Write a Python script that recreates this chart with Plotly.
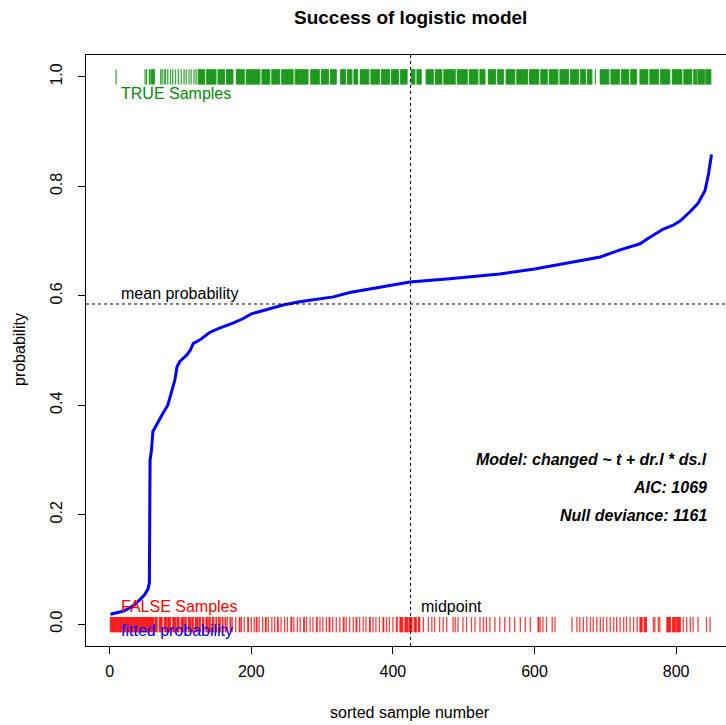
import plotly.graph_objects as go

# ---------------- data ----------------
CURVE_IDX = [1, 20, 35, 42, 49, 54, 56, 57, 59, 61, 68, 75, 82, 87, 92, 95, 99, 109, 114, 118,
             127, 141, 155, 174, 188, 200, 221, 245, 268, 292, 316, 339, 370, 400, 424, 480,
             551, 600, 636, 693, 721, 749, 763, 782, 796, 806, 820, 831, 841, 846, 850]
CURVE_PROB = [0.018, 0.024, 0.035, 0.044, 0.053, 0.064, 0.075, 0.300, 0.318, 0.352, 0.370, 0.385,
              0.400, 0.422, 0.446, 0.470, 0.480, 0.492, 0.501, 0.513, 0.519, 0.533, 0.541, 0.550,
              0.558, 0.567, 0.575, 0.583, 0.589, 0.594, 0.598, 0.606, 0.613, 0.620, 0.625, 0.631,
              0.640, 0.649, 0.658, 0.671, 0.684, 0.695, 0.707, 0.722, 0.729, 0.737, 0.754, 0.769,
              0.793, 0.824, 0.858]

# sample indices of TRUE outcomes (runs of consecutive indices)
TRUE_RUNS = [(9, 9), (50, 50), (52, 52), (56, 57), (59, 63), (72, 72), (74, 74), (77, 77), (79, 79),
             (82, 82), (86, 86), (89, 89), (93, 93), (97, 97), (101, 101), (105, 105), (108, 108),
             (112, 112), (115, 115), (119, 119), (122, 122),
             (125, 134), (137, 150), (153, 162), (165, 174), (179, 190), (193, 212),
             (215, 226), (229, 240), (243, 259), (262, 280), (284, 296), (299, 309), (312, 320),
             (326, 333), (336, 342), (345, 350), (354, 366), (369, 381), (384, 395), (398, 408),
             (411, 420), (426, 431), (434, 440), (447, 457), (460, 469), (472, 488), (491, 505),
             (508, 520), (523, 530), (535, 545), (548, 556), (560, 572), (575, 590), (593, 606),
             (609, 618), (621, 633), (636, 648), (651, 662), (665, 672), (675, 681), (686, 686),
             (693, 705), (708, 720), (723, 733), (736, 744), (749, 760), (763, 775), (778, 791),
             (795, 808), (811, 822), (825, 829), (831, 840), (842, 849)]

# sample indices of FALSE outcomes (runs of consecutive indices)
FALSE_RUNS = [(1, 62), (64, 67), (70, 74), (77, 80), (82, 86), (89, 93), (95, 98), (101, 104),
              (106, 108), (111, 114), (116, 118), (121, 124), (126, 128), (131, 133), (136, 138),
              (140, 142), (145, 147), (150, 151), (154, 156), (159, 160), (163, 164),
              (166, 166), (170, 171), (173, 173), (178, 178), (183, 184), (186, 186), (190, 190),
              (195, 196), (200, 200), (204, 204), (207, 208), (211, 211), (216, 216), (220, 221),
              (224, 224), (229, 229), (233, 233), (237, 238), (242, 242), (247, 247), (251, 251),
              (256, 257), (260, 260), (265, 265), (269, 269), (274, 275), (278, 278), (283, 283),
              (287, 287), (292, 293), (297, 297), (301, 301), (306, 306), (310, 311), (315, 315),
              (320, 320), (325, 325), (330, 331), (334, 334), (339, 339), (344, 344), (348, 349),
              (353, 353), (358, 358), (362, 362), (367, 368), (372, 372), (376, 376), (381, 381),
              (386, 387), (391, 391), (395, 395), (400, 400), (405, 406), (410, 414), (417, 421),
              (423, 427), (430, 433), (436, 438), (443, 443), (450, 450), (455, 455), (459, 459),
              (466, 466), (471, 471), (476, 476), (485, 485), (488, 488), (492, 492), (499, 499),
              (504, 504), (511, 511), (516, 516), (523, 523), (528, 528), (532, 532), (537, 537),
              (544, 544), (551, 551), (558, 558), (565, 565), (572, 572), (580, 580), (587, 587),
              (594, 594), (605, 606), (608, 608), (612, 612), (617, 617), (625, 625), (629, 629),
              (653, 653), (660, 660), (664, 664), (669, 669), (674, 674), (679, 679), (683, 683),
              (688, 688), (693, 693), (697, 697), (702, 702), (707, 707), (712, 712), (716, 716),
              (721, 721), (726, 726), (730, 730), (735, 735), (740, 740), (745, 745), (749, 752),
              (755, 758), (768, 768), (770, 770), (775, 775), (777, 777), (787, 792), (795, 799),
              (801, 806), (810, 810), (815, 815), (820, 820), (824, 824), (831, 831), (843, 843),
              (848, 848)]

MEAN_PROB = 0.585
MIDPOINT = 425
MODEL_LINES = ["Model: changed ~ t + dr.l * ds.l", "AIC: 1069", "Null deviance: 1161"]
X_TICKS = [0, 200, 400, 600, 800]
Y_TICKS = [0.0, 0.2, 0.4, 0.6, 0.8, 1.0]
Y_TICK_TEXT = ["0.0", "0.2", "0.4", "0.6", "0.8", "1.0"]

# ---------------- figure ----------------
FONT = "Liberation Sans, Arial, Helvetica, sans-serif"
W, H = 726, 725
L, R, T, B = 86, 0, 55, 79


def rug_xy(runs, y0, y1):
    xs, ys = [], []
    for a, b in runs:
        for i in range(a, b + 1):
            xs += [i, i, None]
            ys += [y0, y1, None]
    return xs, ys


fig = go.Figure()

tx, ty = rug_xy(TRUE_RUNS, 0.986, 1.014)
fig.add_trace(go.Scatter(x=tx, y=ty, mode="lines", line=dict(color="rgba(0,139,0,0.75)", width=1.3),
                         hoverinfo="skip", showlegend=False))
fx, fy = rug_xy(FALSE_RUNS, -0.015, 0.013)
fig.add_trace(go.Scatter(x=fx, y=fy, mode="lines", line=dict(color="rgba(255,0,0,0.75)", width=1.3),
                         hoverinfo="skip", showlegend=False))

fig.add_trace(go.Scatter(x=CURVE_IDX, y=CURVE_PROB, mode="lines",
                         line=dict(color="#0000FF", width=3), showlegend=False))

# reference lines
fig.add_shape(type="line", xref="paper", yref="y", x0=0, x1=1, y0=MEAN_PROB, y1=MEAN_PROB,
              line=dict(color="black", width=1, dash="3px,3px"))
fig.add_shape(type="line", xref="x", yref="paper", x0=MIDPOINT, x1=MIDPOINT, y0=0, y1=1,
              line=dict(color="black", width=1, dash="3px,3px"))


def px_x(px):
    return (px - L) / (W - L - R)


def px_y(py):
    return (H - B - py) / (H - T - B)


def txt(text, x, y, color="black", xanchor="left", size=16, bold=False, italic=False):
    if bold:
        text = "<b>" + text + "</b>"
    if italic:
        text = "<i>" + text + "</i>"
    fig.add_annotation(text=text, xref="paper", yref="paper", x=px_x(x), y=px_y(y),
                       xanchor=xanchor, yanchor="middle", showarrow=False,
                       font=dict(family=FONT, size=size, color=color))


txt("TRUE Samples", 119, 93, color="#008B00")
txt("mean probability", 119, 293)
txt("FALSE Samples", 119, 606, color="#FF0000")
txt("fitted probability", 119, 630, color="#0000FF")
txt("midpoint", 419, 606)
for k, s in enumerate(MODEL_LINES):
    txt(s, 709, 460 + 27.5 * k, xanchor="right", bold=True, italic=True)

fig.add_annotation(text="<b>Success of logistic model</b>", xref="paper", yref="paper",
                   x=px_x(410), y=px_y(17), xanchor="center", yanchor="middle", showarrow=False,
                   font=dict(family=FONT, size=19, color="black"))
fig.add_annotation(text="sorted sample number", xref="paper", yref="paper",
                   x=px_x(410), y=px_y(712), xanchor="center", yanchor="middle", showarrow=False,
                   font=dict(family=FONT, size=16, color="black"))
fig.add_annotation(text="probability", xref="paper", yref="paper", textangle=-90,
                   x=px_x(19), y=px_y(350), xanchor="center", yanchor="middle", showarrow=False,
                   font=dict(family=FONT, size=16, color="black"))

fig.update_layout(
    width=W, height=H, margin=dict(l=L, r=R, t=T, b=B, pad=0),
    paper_bgcolor="white", plot_bgcolor="white",
    font=dict(family=FONT, size=16, color="black"),
    xaxis=dict(range=[-33.5, 870.5], tickvals=X_TICKS, ticks="outside", ticklen=7, tickwidth=1,
               tickcolor="black", showline=True, linecolor="black", linewidth=1, mirror=True,
               showgrid=False, zeroline=False, tickfont=dict(size=16), ticklabelstandoff=4),
    yaxis=dict(range=[-0.04, 1.04], tickvals=Y_TICKS, ticktext=Y_TICK_TEXT, tickangle=-90,
               ticks="outside", ticklen=7, tickwidth=1, tickcolor="black", showline=True,
               linecolor="black", linewidth=1, showgrid=False, zeroline=False,
               tickfont=dict(size=16), ticklabelstandoff=10),
    showlegend=False,
)

fig.write_html("out.html")
